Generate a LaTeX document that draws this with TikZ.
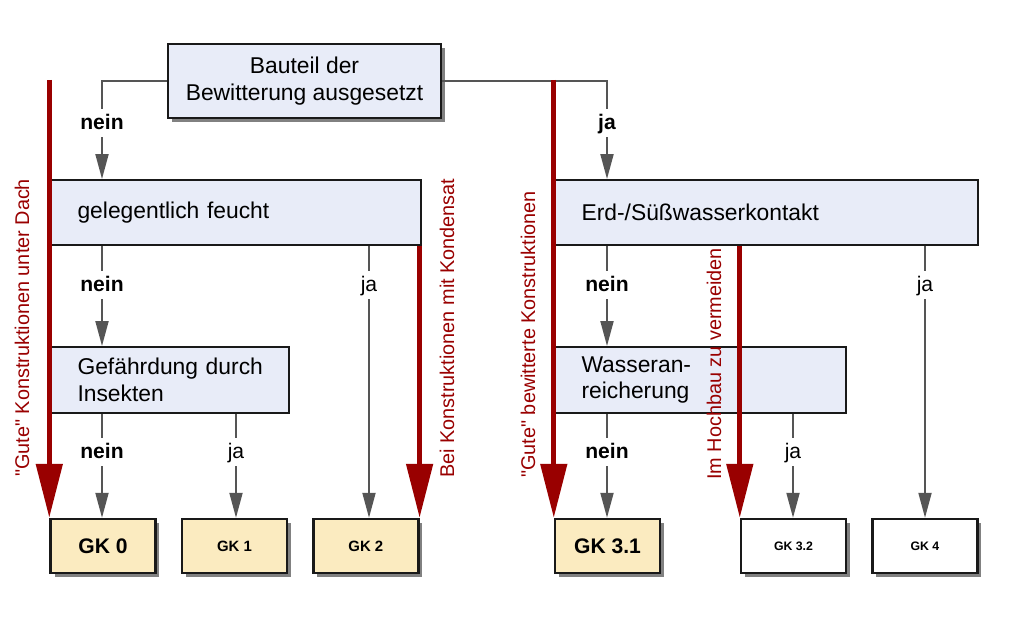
\documentclass[tikz,border=0pt]{standalone}
\usepackage{fontspec}
\setmainfont{Liberation Sans}
\usetikzlibrary{positioning,shadows,arrows.meta}

\definecolor{boxblue}{RGB}{232,236,248}
\definecolor{gkcream}{RGB}{251,235,192}
\definecolor{darkred}{RGB}{153,0,0}
\definecolor{conngray}{RGB}{85,85,85}

\tikzset{
  question/.style={draw=black!90, fill=boxblue, line width=1.1pt, minimum height=1.3cm,
    inner xsep=0.53cm, align=left, font=\fontsize{13}{15}\selectfont},
  topq/.style={question, line width=1.6pt, align=center, inner xsep=0pt,
    drop shadow={shadow xshift=0.08cm, shadow yshift=-0.08cm, fill=black!55, opacity=0.9}},
  gk/.style={draw=black!90, fill=gkcream, line width=1.4pt, minimum width=2.1cm,
    minimum height=1.08cm, inner sep=0pt,
    drop shadow={shadow xshift=0.08cm, shadow yshift=-0.08cm, fill=black!55, opacity=0.9}},
  gkwhite/.style={gk, fill=white},
  answer/.style={text height=0.3cm, text depth=0.05cm, inner xsep=0pt, inner ysep=0.1cm,
    font=\fontsize{12}{14}\selectfont},
  conn/.style={draw=conngray, line width=1.1pt},
  arr/.style={conn, -{Triangle[length=0.5cm, width=0.26cm]}},
  redarr/.style={draw=darkred, line width=2.8pt, -{Triangle[length=1.08cm, width=0.52cm]}},
  redlbl/.style={rotate=90, anchor=west, inner sep=0pt, text=darkred,
    font=\fontsize{11.3}{13}\selectfont}
}

\begin{document}
\begin{tikzpicture}[x=0.02cm, y=-0.02cm]
    \useasboundingbox (0,0) rectangle (1030,642);

    % Define nodes
    \node[topq, minimum width=5.46cm, minimum height=1.48cm] (weather) at (304.5,81)
        {Bauteil der\\Bewitterung ausgesetzt};
    \node[question, text width=6.34cm] (damp) at (236,212.5) {gelegentlich feucht};
    \node[question, text width=7.40cm] (soil) at (766.5,212.5) {Erd-/Süßwasserkontakt};
    \node[question, text width=3.70cm, minimum height=1.32cm] (insect) at (170,380)
        {\mbox{Gefährdung durch}\\Insekten};
    \node[question, text width=4.76cm, minimum height=1.32cm] (water) at (700.5,380)
        {Wasseran-\\reicherung};

    \node[gk, font=\bfseries\fontsize{12}{14}\selectfont] (gk0) at (103,546) {GK 0};
    \node[gk, right=0.48cm of gk0, font=\bfseries\fontsize{8.5}{10}\selectfont] (gk1) {GK 1};
    \node[gk, right=0.48cm of gk1, font=\bfseries\fontsize{8.5}{10}\selectfont] (gk2) {GK 2};
    \node[gk, font=\bfseries\fontsize{12}{14}\selectfont] (gk31) at (607.5,546) {GK 3.1};
    \node[gkwhite, font=\bfseries\fontsize{7}{9}\selectfont] (gk32) at (793.5,546) {GK 3.2};
    \node[gkwhite, right=0.48cm of gk32, font=\bfseries\fontsize{7}{9}\selectfont] (gk4) {GK 4};

    % answers
    \node[answer, font=\bfseries\fontsize{12}{14}\selectfont] (n1) at (102,123) {nein};
    \node[answer, font=\bfseries\fontsize{12}{14}\selectfont] (j1) at (607,123) {ja};
    \node[answer, font=\bfseries\fontsize{12}{14}\selectfont] (n2) at (102,285) {nein};
    \node[answer] (j2) at (369,285) {ja};
    \node[answer, font=\bfseries\fontsize{12}{14}\selectfont] (n3) at (607,285) {nein};
    \node[answer] (j3) at (925,285) {ja};
    \node[answer, font=\bfseries\fontsize{12}{14}\selectfont] (n4) at (102,452) {nein};
    \node[answer] (j4) at (236,452) {ja};
    \node[answer, font=\bfseries\fontsize{12}{14}\selectfont] (n5) at (607,452) {nein};
    \node[answer] (j5) at (793,452) {ja};

    % Connect nodes
    \draw[conn] (weather.west) -| (n1.north);
    \draw[arr] (n1.south) -- (n1 |- damp.north);
    \draw[conn] (weather.east) -| (j1.north);
    \draw[arr] (j1.south) -- (j1 |- soil.north);

    \draw[conn] (n2 |- damp.south) -- (n2.north);
    \draw[arr] (n2.south) -- (n2 |- insect.north);
    \draw[conn] (j2 |- damp.south) -- (j2.north);
    \draw[arr] (j2.south) -- (j2 |- gk2.north);
    \draw[conn] (n3 |- soil.south) -- (n3.north);
    \draw[arr] (n3.south) -- (n3 |- water.north);
    \draw[conn] (j3 |- soil.south) -- (j3.north);
    \draw[arr] (j3.south) -- (j3 |- gk4.north);

    \draw[conn] (n4 |- insect.south) -- (n4.north);
    \draw[arr] (n4.south) -- (n4 |- gk0.north);
    \draw[conn] (j4 |- insect.south) -- (j4.north);
    \draw[arr] (j4.south) -- (j4 |- gk1.north);
    \draw[conn] (n5 |- water.south) -- (n5.north);
    \draw[arr] (n5.south) -- (n5 |- gk31.north);
    \draw[conn] (j5 |- water.south) -- (j5.north);
    \draw[arr] (j5.south) -- (j5 |- gk32.north);

    % red shortcuts
    \coordinate (undercover) at (gk0.north west |- 0,80);
    \coordinate (exposed) at (gk31.north west |- 0,80);
    \draw[redarr] (undercover) -- (gk0.north west);
    \draw[redarr] (gk2.north east |- damp.south) -- (gk2.north east);
    \draw[redarr] (exposed) -- (gk31.north west);
    \draw[redarr] (gk32.north west |- soil.south) -- (gk32.north west);

    \node[redlbl] (lbldach) at (22,477) {\textquotedbl Gute\textquotedbl{} Konstruktionen unter Dach};
    \node[redlbl] (lblkond) at (447,478) {Bei Konstruktionen mit Kondensat};
    \node[redlbl] (lblbew) at (528,478) {\textquotedbl Gute\textquotedbl{} bewitterte Konstruktionen};
    \node[redlbl] (lblhoch) at (714,480) {Im Hochbau zu vermeiden};
\end{tikzpicture}
\end{document}
